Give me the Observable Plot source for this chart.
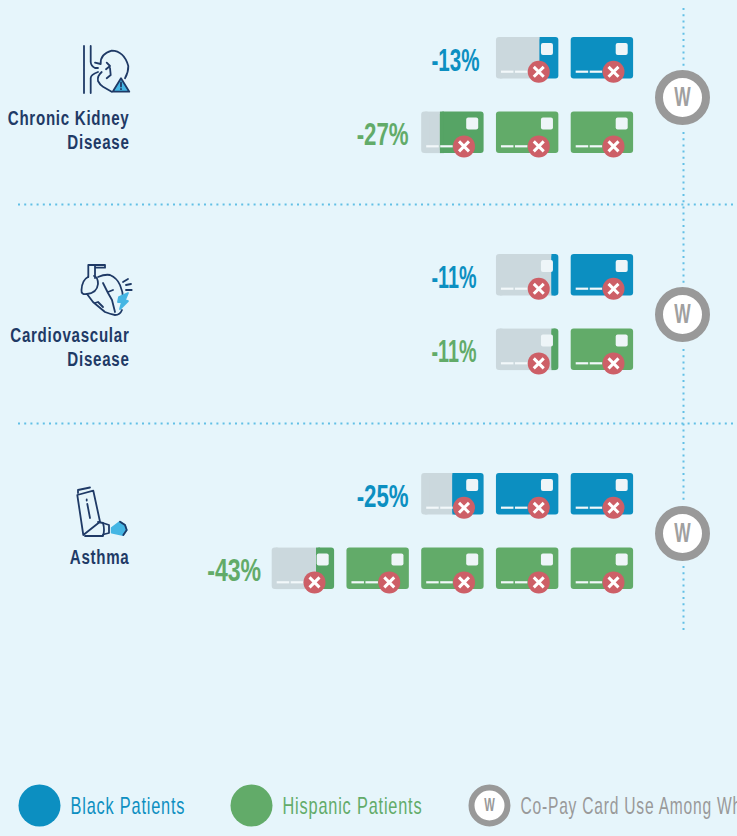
<!DOCTYPE html>
<html><head><meta charset="utf-8">
<style>
html,body{margin:0;padding:0;background:#e6f5fb;overflow:hidden}
svg{display:block}
g[aria-description="condition"] text{letter-spacing:1px}
g[aria-description="legend text"] text{letter-spacing:1.2px}
</style>
<script src="https://cdn.jsdelivr.net/npm/d3@7"></script>
<script src="https://cdn.jsdelivr.net/npm/@observablehq/plot@0.6"></script>
</head><body><div id="c"></div>
<script>
// DATA
const conditions = ["Chronic Kidney\nDisease", "Cardiovascular\nDisease", "Asthma"];
const groups = ["Black", "Hispanic"];
const reductions = [[-13, -27], [-11, -11], [-25, -43]];
const cardCounts = [[2, 3], [2, 2], [3, 5]];
const unusedShare = [[0.70, 0.30], [0.89, 0.89], [0.50, 0.71]]; // grey part of the leftmost card
const legendLabels = ["Black Patients", "Hispanic Patients", "Co-Pay Card Use Among White Patients"];

// COLOURS
const blue = "#0c8fc1", green = "#62ab69", greenDark = "#56a465", grey = "#cbd8dd", navy = "#1f3a66",
      ring = "#999999", red = "#cd5f67", dotted = "#62c0e6", bg = "#e6f5fb";

// LAYOUT (plot units)
const W = 737, H = 836;
const rightCard = 570.7, slot = 74.75, cardW = 62.4, cardH = 41.5, rowGap = 74.6;
const groupTop = [37, 254, 473];
const ringY = [97, 314, 533];
const labelY = [118, 335, 557];
const separatorsY = [204, 423];
const legendX = [39, 251, 489];
const legendTextX = [70, 282, 520];
const legendY = 805;
const percentWidths = [48, 52, 45, 45, 52, 54];
const legendSqueeze = [0.68, 0.68, 0.65];

const rows = [];
const cards = [];
conditions.forEach((c, g) => groups.forEach((name, s) => {
  const top = groupTop[g] + s * rowGap;
  const n = cardCounts[g][s];
  const left = rightCard - slot * (n - 1);
  rows.push({name, top, left, pct: reductions[g][s]});
  for (let i = 0; i < n; i++) {
    const x = rightCard - slot * i;
    cards.push({name, x, top, share: i === n - 1 ? unusedShare[g][s] : 0});
  }
}));
const partial = cards.filter(d => d.share > 0);
const whole = cards.filter(d => !d.share);
const dashes = cards.flatMap(d => [0, 1, 2].map(k => ({x1: d.x + 5 + 14 * k, x2: d.x + 17.5 + 14 * k, y: d.top + 34.2})));

const icon = (paths) => () => {
  const g = d3.create("svg:g").attr("fill", "none").attr("stroke", navy).attr("stroke-width", 1.8)
    .attr("stroke-linecap", "round").attr("stroke-linejoin", "round");
  for (const p of paths) {
    const e = g.append("path").attr("d", p.d);
    if (p.fill) e.attr("fill", p.fill);
    if (p.stroke) e.attr("stroke", p.stroke);
  }
  return g.node();
};
const lightBlue = "#45b6e4";
const kidney = icon([
  {d:"M84 46V93M90.7 46V62Q91 66 95 68L98 68M90.7 93V78Q91 74.5 98 72"},
  {d:"M95 62.7L100.7 64Q100 54 111.7 50.7Q124 51 128.3 66Q128.5 72 125 78.3M101.7 72Q97 76 98 81Q100 85 103 86.7L111.7 91.7"},
  {d:"M106.7 62.7L110 66L106 69.3M110 68L110.7 75L106.7 78.3"},
  {d:"M121 78.3L129.3 91.7H112.7Z", fill:lightBlue},
  {d:"M121 82.5V86.5M121 89V89.2"}
]);
const heart = icon([
  {d:"M88.3 277V265H105V267.7H95V278M95 265V267.7"},
  {d:"M88 277Q82 280 81.5 290Q81 295 87 294Q97 293 98 284Q98 277 94 276"},
  {d:"M98 277Q105 274 110 275Q117 278 120 285Q123 292 123 298M122 310Q120 315 115 315Q110 314 105 312L93 302L87 294"},
  {d:"M103 283L108 293L112 300L115 312M108 292L113 290M95 303L98 302L103 307"},
  {d:"M119 297L128 293L125 300L128 301L120 309L122 302L118 302Z", fill:lightBlue, stroke:lightBlue},
  {d:"M123 282L128 279M126 285L131 284M126 290H131.7"}
]);
const inhaler = icon([
  {d:"M78 493V490L90 487.5"},
  {d:"M77.3 495L93.3 490.7L100 521.7L83.3 535Z"},
  {d:"M85 536H103Q105 530 103 523L98 522"},
  {d:"M103 523L109 525V533L103 534.5"},
  {d:"M86.7 499.5V500.5M87.3 504L90 518"},
  {d:"M111.7 528L120 521.7L125 525L126.7 530L123.3 535L111.7 532.7Z", fill:lightBlue, stroke:lightBlue},
  {d:"M120 521.7L125 525L126.7 530L123.3 535"}
]);

const font = "'Liberation Sans',sans-serif";
const partFill = d => d.name + " partial";
const plot = Plot.plot({
  width: W, height: H, margin: 0,
  style: {background: "transparent"},
  x: {domain: [0, W], range: [0, W], axis: null},
  y: {domain: [0, H], range: [0, H], axis: null},
  color: {domain: [...groups, "Black partial", "Hispanic partial"], range: [blue, green, blue, greenDark]},
  marks: [
    // dotted guides
    Plot.ruleX([683], {y1: () => 8, y2: () => 634, stroke: dotted, strokeWidth: 2, strokeDasharray: "2,4.2"}),
    Plot.ruleY(separatorsY, {x1: () => 18, x2: () => W, stroke: dotted, strokeWidth: 2, strokeDasharray: "2,4.2"}),
    // cards
    Plot.rect(whole, {x1: "x", x2: d => d.x + cardW, y1: "top", y2: d => d.top + cardH, fill: "name", rx: 3}),
    Plot.rect(partial, {x1: d => d.x + 4, x2: d => d.x + d.share * cardW + 1, y1: "top", y2: d => d.top + cardH, fill: grey}),
    Plot.rect(partial, {x1: "x", x2: d => d.x + 8, y1: "top", y2: d => d.top + cardH, fill: grey, rx: 3}),
    Plot.rect(partial, {x1: d => d.x + d.share * cardW, x2: d => d.x + cardW, y1: "top", y2: d => d.top + cardH, fill: partFill, rx: 3}),
    Plot.rect(partial, {x1: d => d.x + d.share * cardW, x2: d => d.x + d.share * cardW + 4, y1: "top", y2: d => d.top + cardH, fill: partFill}),
    // chip
    Plot.rect(cards, {x1: d => d.x + 45, x2: d => d.x + 57, y1: d => d.top + 6, y2: d => d.top + 18, fill: "#eef5f8", rx: 2}),
    // dashes
    Plot.ruleY(dashes, {x1: "x1", x2: "x2", y: "y", stroke: "#f2f8fa", strokeWidth: 2.2}),
    // badge
    Plot.dot(cards, {x: d => d.x + 42.3, y: d => d.top + 34.3, r: 11, fill: red}),
    Plot.dot(cards, {x: d => d.x + 42.3, y: d => d.top + 34.3, r: 4.6, symbol: "times", stroke: "#fff", strokeWidth: 3}),
    // percentages
    Plot.text(rows, {x: d => d.left - 65, y: d => d.top + 23, text: d => `${d.pct}%`, fill: "name", textAnchor: "start",
      fontFamily: font, fontWeight: 700, fontSize: 32, ariaDescription: "percent"}),
    // conditions
    Plot.text(conditions, {x: () => 129, y: (d, i) => labelY[i], text: d => d, textAnchor: "end", lineAnchor: "top", dy: -11, lineHeight: 1.15,
      fill: navy, fontFamily: font, fontWeight: 700, fontSize: 21, ariaDescription: "condition"}),
    // W rings
    Plot.dot(ringY, {x: () => 682, y: d => d, r: 31, fill: bg}),
    Plot.dot(ringY, {x: () => 682, y: d => d, r: 23.5, fill: "#fff", stroke: ring, strokeWidth: 8}),
    Plot.text(ringY, {x: () => 682, y: d => d, text: () => "W", fill: "#a0a0a0", fontWeight: 700, fontSize: 28,
      fontFamily: font, ariaDescription: "ring w"}),
    // icons
    kidney, heart, inhaler,
    // legend
    Plot.dot(groups, {x: (d, i) => legendX[i], y: () => legendY, r: 21, fill: d => d}),
    Plot.dot([0], {x: () => legendX[2], y: () => legendY, r: 18, fill: "#fff", stroke: ring, strokeWidth: 6}),
    Plot.text([0], {x: () => legendX[2], y: () => legendY, text: () => "W", fill: ring, fontWeight: 700, fontSize: 18,
      fontFamily: font, ariaDescription: "ring w"}),
    Plot.text(legendLabels, {x: (d, i) => legendTextX[i], y: () => legendY + 1, text: d => d, textAnchor: "start",
      fill: (d, i) => [blue, green, ring][i], fontFamily: font, fontSize: 24, ariaDescription: "legend text"})
  ]
});
document.getElementById("c").append(plot);
// The reference uses a condensed face; condense the installed one horizontally.
const squeeze = {"condition": () => 0.72, "ring w": () => 0.62, "legend text": (i) => legendSqueeze[i]};
for (const [label, k] of Object.entries(squeeze)) {
  d3.select(plot).selectAll(`g[aria-description="${label}"] text`).attr("transform", function (_, i) {
    return `${this.getAttribute("transform") || ""} scale(${k(i)},1)`;
  });
}
d3.select(plot).selectAll(`g[aria-description="percent"] text`).attr("transform", function (_, i) {
  const k = percentWidths[i] / this.getComputedTextLength();
  return `${this.getAttribute("transform") || ""} scale(${k},1)`;
});
</script></body></html>
